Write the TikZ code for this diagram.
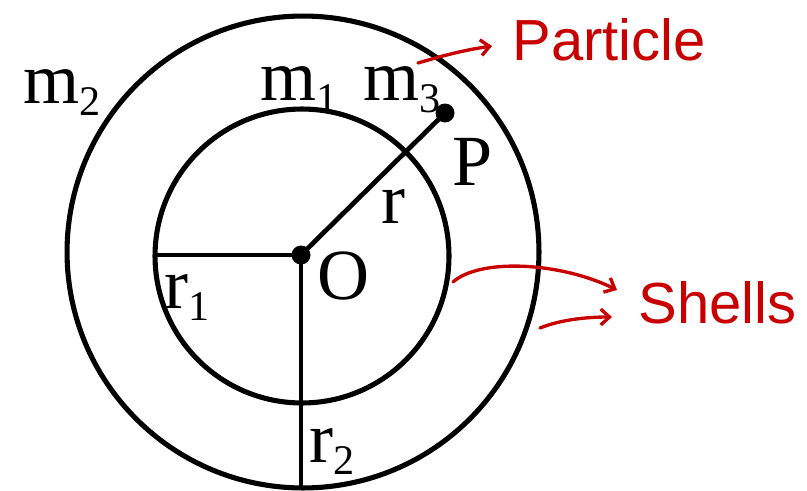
\documentclass[tikz,border=0pt]{standalone}
\usepackage{fontspec}
\setmainfont{Liberation Serif}
\newfontfamily\handfont{Liberation Sans}
\usepackage{tikz}
\usetikzlibrary{arrows.meta, positioning, calc}
\definecolor{myred}{RGB}{200,0,0}
\definecolor{mydark}{RGB}{0,0,0}
\newcommand{\lowsub}[1]{\raisebox{-0.17em}{\fontsize{24}{24}\selectfont #1}}
\tikzset{
  shell/.style={circle, draw=mydark, line width=2.9pt, inner sep=0pt, outer sep=0pt},
  radius/.style={line width=2.7pt, color=mydark},
  dotnode/.style={circle, fill=mydark, inner sep=0pt, minimum size=0.38cm},
  lbl/.style={anchor=base west, inner sep=0pt, font=\fontsize{41}{41}\selectfont},
  note/.style={anchor=base west, inner sep=0pt, color=myred, font=\handfont\fontsize{33}{33}\selectfont},
  redarrow/.style={-{Straight Barb[length=5pt, width=9pt]}, line width=1.9pt, color=myred, line cap=round}
}
\begin{document}
\begin{tikzpicture}[x=0.02cm, y=-0.02cm]
  \useasboundingbox (0,0) rectangle (807,490);

  % Centre and shells
  \node[dotnode] (O) at (301,255) {};
  \node[shell, minimum size=5.88cm] (inner) at (302,256) {};
  \node[shell, minimum size=9.44cm] (outer) at (303,252) {};

  % Particle
  \node[dotnode] (P) at (445,113) {};

  % Radii
  \draw[radius] (O.center) -- (O.center -| inner.west);
  \draw[radius, line width=2.1pt] (O.center) -- (O.center |- outer.south);
  \draw[radius] (O.center) -- (P.center);

  % Labels
  \node[lbl] (m2) at (23,103) {m\lowsub{2}};
  \node[lbl] (m1) at (260,100) {m\lowsub{1}};
  \node[lbl] (m3) at (363,100) {m\lowsub{3}};
  \node[lbl] (Plbl) at (452,185) {P};
  \node[lbl] (rlbl) at (381,223) {r};
  \node[lbl] (Olbl) at (317,299) {O};
  \node[lbl] (r1) at (164,308) {r\lowsub{1}};
  \node[lbl] (r2) at (309,462) {r\lowsub{2}};

  % Notes
  \node[note] (particle) at (512,60) {Particle};
  \node[note] (shells) at (638,323) {Shells};
  \coordinate (a1) at (418,63);
  \coordinate (a2) at (453,282);
  \coordinate (a3) at (540,328);
  \draw[redarrow] (a1) .. controls (445,55) and (465,50) .. (492,46);
  \draw[redarrow] (a2) .. controls (480,258) and (560,262) .. (617,290);
  \draw[redarrow] (a3) .. controls (560,320) and (585,317) .. (612,317);
\end{tikzpicture}
\end{document}
